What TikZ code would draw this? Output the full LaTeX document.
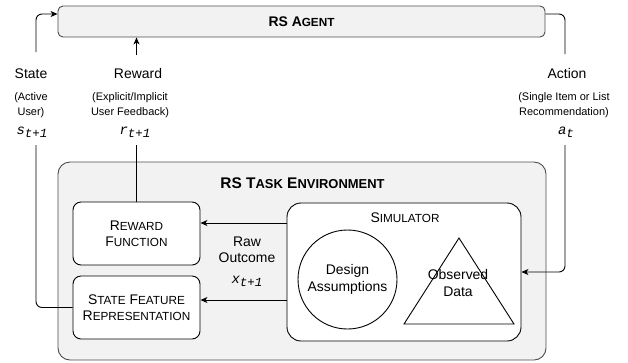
\documentclass[tikz,border=0pt]{standalone}
\usepackage{fontspec}
\setmainfont{Liberation Sans}
\newfontfamily\monofam{Liberation Mono}
\usetikzlibrary{arrows.meta}
\newcommand\scp[1]{{\fontsize{11.8}{12}\selectfont #1}}
\newcommand\bigscp[1]{{\fontsize{13}{13}\selectfont #1}}
\newcommand\tvar[2]{{\monofam\itshape\fontsize{14}{14}\selectfont #1\raisebox{-3pt}{\fontsize{12.5}{12}\selectfont #2}}}
\tikzset{
    every node/.style = {inner sep=0pt, font=\fontsize{14}{16.5}\selectfont, align=center},
    link/.style = {draw=black, line width=0.9bp, rounded corners=6bp},
    tip/.style = {-{Stealth[length=7bp,width=6bp,inset=2bp]}},
    graybox/.style = {draw=black!70, fill=black!5, line width=0.9bp, rounded corners=#1},
    whitebox/.style = {draw=black, fill=white, line width=0.9bp, rounded corners=#1},
    note/.style = {font=\fontsize{11}{14.5}\selectfont}
}

\begin{document}
\begin{tikzpicture}[x=1bp, y=-1bp]
    \useasboundingbox (0,0) rectangle (628,362);

    % agent and environment
    \node[graybox=5bp, minimum width=487bp, minimum height=31bp] (agent) at (301.5,21.5) {\textbf{RS A\scp{GENT}}};
    \node[graybox=12bp, minimum width=488bp, minimum height=198bp] (env) at (302,261) {};
    \node[font=\fontsize{15.5}{16}\selectfont] (envtitle) at (302.5,183.5) {\textbf{RS T\bigscp{ASK} E\bigscp{NVIRONMENT}}};

    \node[whitebox=8bp, minimum width=127bp, minimum height=63bp] (rfn) at (136.5,233.5) {R\scp{EWARD}\\F\scp{UNCTION}};
    \node[whitebox=8bp, minimum width=127bp, minimum height=63bp] (sfr) at (136.5,307.5) {S\scp{TATE} F\scp{EATURE}\\R\scp{EPRESENTATION}};

    % simulator
    \node[whitebox=14bp, minimum width=234bp, minimum height=138bp] (sim) at (404,272) {};
    \node (simtitle) at (405,218) {S\scp{IMULATOR}};
    \node[circle, draw, line width=0.9bp, minimum size=99bp] (design) at (347.5,279.5) {Design\\Assumptions};
    \draw[line width=0.9bp] (459,238) -- (514,324) -- (404,324) -- cycle;
    \node (data) at (458,283) {Observed\\Data};

    % labels
    \node (state) at (31,73.5) {State};
    \node[note] (statenote) at (31,105) {(Active\\User)};
    \node (statevar) at (32,132) {\tvar{s}{t+1}};
    \node (reward) at (138,73.5) {Reward};
    \node[note] (rewardnote) at (130,105) {(Explicit/Implicit\\User Feedback)};
    \node (rewardvar) at (135,132) {\tvar{r}{t+1}};
    \node (action) at (567,73.5) {Action};
    \node[note] (actionnote) at (564,105) {(Single Item or List\\Recommendation)};
    \node (actionvar) at (566,132) {\tvar{a}{t}};
    \node (raw) at (247,250) {Raw\\Outcome};
    \node (rawvar) at (247,281) {\tvar{x}{t+1}};

    \coordinate (stop) at (36,52);
    \coordinate (sbot) at (36,145);
    \coordinate (rtop) at (136.5,55);
    \coordinate (rbot) at (136.5,145);
    \coordinate (atop) at (565,54);
    \coordinate (abot) at (565,145);

    % connectors
    \draw[link, tip] (stop) |- ([yshift=7.5bp]agent.west);
    \draw[link] (sfr.west) -| (sbot);
    \draw[link, tip] (rtop) -- (rtop |- agent.south);
    \draw[link] (rfn.north) -- (rbot);
    \draw[link] ([yshift=7.5bp]agent.east) -| (atop);
    \draw[link, tip] (abot) |- (sim.east);
    \draw[link, tip] ([yshift=10.5bp]sim.west |- rfn.east) -- ([yshift=10.5bp]rfn.east);
    \draw[link, tip] ([yshift=7.5bp]sim.west |- sfr.east) -- ([yshift=7.5bp]sfr.east);
\end{tikzpicture}
\end{document}
